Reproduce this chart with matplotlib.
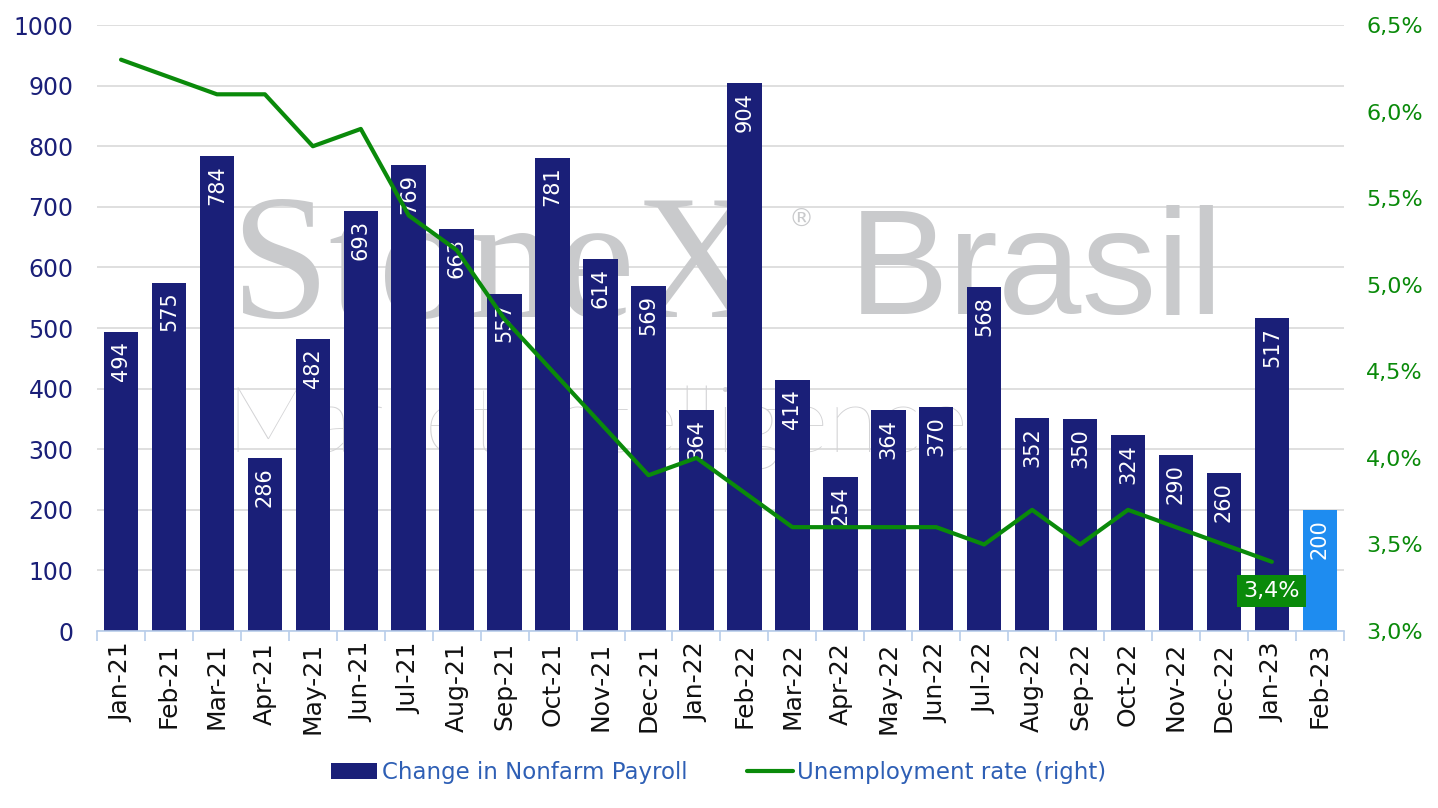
import matplotlib
matplotlib.use("Agg")
import matplotlib.pyplot as plt
from matplotlib.ticker import FuncFormatter, MultipleLocator
import numpy as np

plt.rcParams['font.family'] = ['DejaVu Sans']

months = ["Jan-21", "Feb-21", "Mar-21", "Apr-21", "May-21", "Jun-21", "Jul-21", "Aug-21",
          "Sep-21", "Oct-21", "Nov-21", "Dec-21", "Jan-22", "Feb-22", "Mar-22", "Apr-22",
          "May-22", "Jun-22", "Jul-22", "Aug-22", "Sep-22", "Oct-22", "Nov-22", "Dec-22",
          "Jan-23", "Feb-23"]
payroll = [494, 575, 784, 286, 482, 693, 769, 663, 557, 781, 614, 569, 364, 904, 414, 254,
           364, 370, 568, 352, 350, 324, 290, 260, 517, 200]
unemployment = [6.3, 6.2, 6.1, 6.1, 5.8, 5.9, 5.4, 5.2, 4.8, 4.5, 4.2, 3.9, 4.0, 3.8, 3.6, 3.6,
                3.6, 3.6, 3.5, 3.7, 3.5, 3.7, 3.6, 3.5, 3.4]

navy = "#1a1f78"
lightblue = "#1e8cf0"
green = "#0a8a0a"

fig = plt.figure(figsize=(14.38, 8.08), dpi=100)
ax = fig.add_axes([0.0675, 0.219, 0.867, 0.75])
ax2 = ax.twinx()

x = np.arange(len(months))
colors = [navy] * (len(months) - 1) + [lightblue]
bars = ax.bar(x, payroll, width=0.72, color=colors, zorder=2, label="Change in Nonfarm Payroll")
for xi, v in zip(x, payroll):
    ax.text(xi, v - 15, str(v), rotation=90, ha='center', va='top', color='white',
            fontsize=15, zorder=4)

ax.set_xlim(-0.5, len(months) - 0.5)
ax.set_ylim(0, 1000)
ax.yaxis.set_major_locator(MultipleLocator(100))
ax.grid(axis='y', color='#d9d9d9', linewidth=1.2, zorder=0)
ax.set_axisbelow(True)
ax.set_xticks(x)
ax.set_xticklabels(months, rotation=90, fontsize=18, color='#111111')
ax.set_xticks(np.arange(-0.5, len(months), 1), minor=True)
ax.tick_params(axis='x', which='major', length=0, pad=8)
ax.tick_params(axis='x', which='minor', length=7, color='#b8cdea', width=1.2)
ax.tick_params(axis='y', length=0, labelsize=17, labelcolor=navy, pad=17)
for s in ['top', 'right', 'left']:
    ax.spines[s].set_visible(False)
    ax2.spines[s].set_visible(False)
ax.spines['bottom'].set_color('#b8cdea')
ax.spines['bottom'].set_linewidth(1.2)
ax2.spines['bottom'].set_visible(False)

line, = ax2.plot(x[:len(unemployment)], unemployment, color=green, linewidth=3.0, zorder=3,
                 label="Unemployment rate (right)", solid_capstyle='round')
ax2.set_ylim(3.0, 6.5)
ax2.yaxis.set_major_locator(MultipleLocator(0.5))
ax2.yaxis.set_major_formatter(FuncFormatter(lambda v, p: f"{v:.1f}%".replace('.', ',')))
ax2.tick_params(axis='y', length=0, labelsize=16, labelcolor=green, pad=16)

last = len(unemployment) - 1
ax2.annotate(f"{unemployment[last]:.1f}%".replace('.', ','), xy=(x[last], unemployment[last]),
             xytext=(0, -21), textcoords='offset points', ha='center', va='center',
             color='white', fontsize=16,
             bbox=dict(boxstyle='square,pad=0.28', facecolor=green, edgecolor='none'), zorder=5)

# watermark (behind the bars)
wm = '#c9cacc'
ax.text(0.16, 0.66, "StoneX", transform=fig.transFigure, fontsize=128,
        family=['Liberation Serif', 'DejaVu Serif'], color=wm, ha='left', va='center', zorder=1.5)
ax.text(0.548, 0.728, "®", transform=fig.transFigure, fontsize=18, color=wm,
        ha='left', va='center', zorder=1.5)
ax.text(0.59, 0.66, "Brasil", transform=fig.transFigure, fontsize=108,
        family=['Liberation Sans', 'DejaVu Sans'], color=wm, ha='left', va='center', zorder=1.5)
ax.text(0.158, 0.47, "Market Intelligence", transform=fig.transFigure, fontsize=66,
        family=['Lato', 'DejaVu Sans'], fontweight='light', color='#d3d3d5',
        ha='left', va='center', zorder=1.5)

leg = fig.legend(handles=[bars, line], loc='lower center', bbox_to_anchor=(0.5, 0.004), ncol=2,
                 frameon=False, fontsize=16.5, handlelength=2.0, handletextpad=0.2,
                 columnspacing=2.6)
for t in leg.get_texts():
    t.set_color('#2e5fb5')

fig.savefig("out.png", dpi=100)
